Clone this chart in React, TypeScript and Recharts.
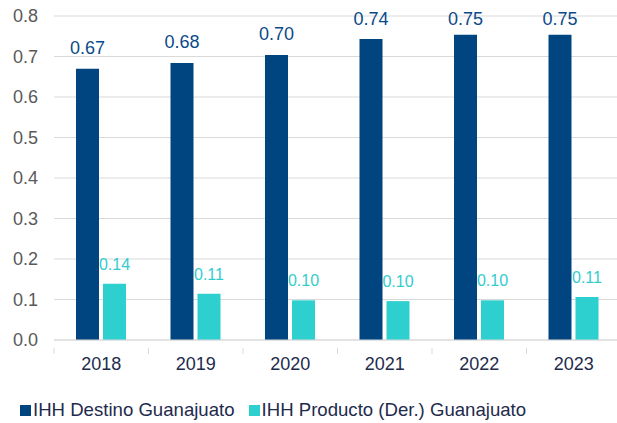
import { Bar, BarChart, CartesianGrid, LabelList, XAxis, YAxis } from "recharts"

const years = ["2018", "2019", "2020", "2021", "2022", "2023"]
const destino = [0.67, 0.684, 0.704, 0.743, 0.754, 0.754]
const producto = [0.139, 0.114, 0.098, 0.096, 0.098, 0.106]
const yTicks = [0, 0.1, 0.2, 0.3, 0.4, 0.5, 0.6, 0.7, 0.8]

const destinoName = "IHH Destino Guanajuato"
const productoName = "IHH Producto (Der.) Guanajuato"

const data = years.map((year, i) => ({ year, destino: destino[i], producto: producto[i] }))

const DARK = "#00457f"
const TEAL = "#2ecfcf"
const FONT = "'Liberation Sans', Arial, sans-serif"
const BAND = 567 / 6

function YearTick(props: any) {
  const { x, y, payload, index } = props
  return (
    <g>
      <line x1={x - BAND / 2} x2={x - BAND / 2} y1={y} y2={y + 6} stroke="#d9d9d9" />
      {index === years.length - 1 && (
        <line x1={x + BAND / 2} x2={x + BAND / 2} y1={y} y2={y + 6} stroke="#d9d9d9" />
      )}
      <text x={x} y={y + 9} dy="0.71em" textAnchor="middle" fill="#1e2b4d" fontSize={18} fontFamily={FONT}>
        {payload.value}
      </text>
    </g>
  )
}

// dark labels stay inside the plot area, like the original
function DestinoLabel(props: any) {
  const { x, y, width, value } = props
  const baseline = Math.max(y - 15, 25)
  return (
    <text x={x + width / 2} y={baseline} textAnchor="middle" fill="#0b4a89" fontSize={18} fontFamily={FONT}>
      {Number(value).toFixed(2)}
    </text>
  )
}

export default function App() {
  return (
    <div style={{ position: "absolute", top: 0, left: 0, width: 617, height: 423, fontFamily: FONT, overflow: "hidden" }}>
      <BarChart
        width={617}
        height={380}
        data={data}
        margin={{ top: 16, right: -4, left: 0, bottom: 0 }}
        barSize={23}
        barGap={4}
      >
        <CartesianGrid vertical={false} stroke="#d9d9d9" />
        <XAxis
          dataKey="year"
          height={40}
          axisLine={{ stroke: "#d9d9d9" }}
          tickLine={false}
          tick={<YearTick />}
          interval={0}
        />
        <YAxis
          width={54}
          domain={[0, 0.8]}
          ticks={yTicks}
          tickFormatter={(v: number) => v.toFixed(1)}
          axisLine={false}
          tickLine={false}
          tickSize={0}
          tickMargin={16}
          tick={{ fill: "#595959", fontSize: 18, fontFamily: FONT }}
        />
        <Bar dataKey="destino" name={destinoName} fill={DARK} isAnimationActive={false}>
          <LabelList dataKey="destino" content={<DestinoLabel />} />
        </Bar>
        <Bar dataKey="producto" name={productoName} fill={TEAL} isAnimationActive={false}>
          <LabelList
            dataKey="producto"
            position="top"
            offset={14}
            formatter={(v: any) => Number(v).toFixed(2)}
            style={{ fill: "#33cccc", fontSize: 16, fontFamily: FONT }}
          />
        </Bar>
      </BarChart>
      <div
        style={{
          position: "absolute",
          top: 399,
          left: 20,
          display: "flex",
          alignItems: "center",
          fontSize: 18.6,
          lineHeight: "22px",
          color: "#1e2b4d",
          whiteSpace: "nowrap",
        }}
      >
        <span style={{ width: 11, height: 11, background: DARK, marginRight: 2 }} />
        <span style={{ marginRight: 14 }}>{destinoName}</span>
        <span style={{ width: 11, height: 11, background: TEAL, marginRight: 2 }} />
        <span>{productoName}</span>
      </div>
    </div>
  )
}
